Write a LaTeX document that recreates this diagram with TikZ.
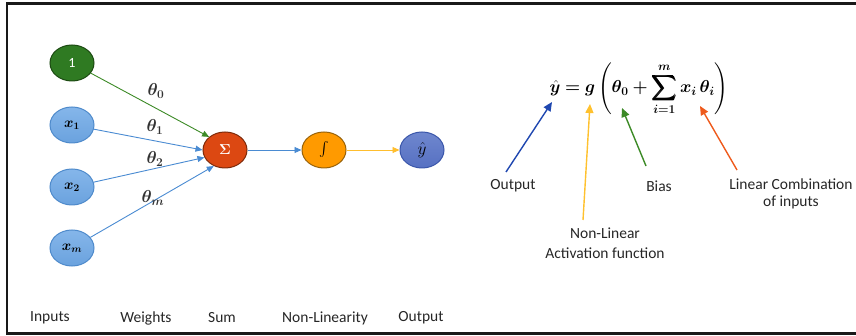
\documentclass[tikz,border=0pt]{standalone}
\usepackage{amsmath}
\usepackage{bm}
\usepackage{fontspec}
\setsansfont{Carlito}
\usetikzlibrary{arrows.meta,shapes.geometric}

\definecolor{nodeblue}{HTML}{6AA2DE}
\definecolor{nodebluetop}{HTML}{85B6EA}
\definecolor{nodeblueedge}{HTML}{4E8ACB}
\definecolor{biasgreen}{HTML}{2F7A22}
\definecolor{biasgreenedge}{HTML}{1C4A12}
\definecolor{sumred}{HTML}{DC4812}
\definecolor{sumrededge}{HTML}{7E2A0A}
\definecolor{actorange}{HTML}{FF9A00}
\definecolor{actorangeedge}{HTML}{98620A}
\definecolor{outblue}{HTML}{5670C2}
\definecolor{outbluetop}{HTML}{6F87CE}
\definecolor{outblueedge}{HTML}{3A56AA}
\definecolor{wireblue}{HTML}{4A8BD2}
\definecolor{wiregreen}{HTML}{3C8A26}
\definecolor{wireyellow}{HTML}{FFBE2E}
\definecolor{arrowblue}{HTML}{1F47B0}
\definecolor{arrowyellow}{HTML}{FFC12E}
\definecolor{arroworange}{HTML}{EE5A1C}

\tikzset{
  neuron/.style={ellipse, minimum width=44pt, minimum height=36pt, inner sep=0pt, line width=1pt,
    font=\fontsize{14}{16}\selectfont},
  innode/.style={neuron, draw=nodeblueedge, top color=nodebluetop, bottom color=nodeblue},
  tip/.style={-{Triangle[length=7pt,width=6pt]}},
  bigtip/.style={-{Triangle[length=9pt,width=8pt]}},
  wire/.style={tip, line width=0.9pt},
  pointer/.style={bigtip, line width=1.4pt},
  caption/.style={font=\sffamily\fontsize{15.5}{18}\selectfont, text=black!85, align=center},
  wlabel/.style={font=\fontsize{18}{20}\selectfont, text=black!80},
  formula/.style={font=\fontsize{17}{20}\selectfont, inner sep=0pt},
}

\begin{document}
\begin{tikzpicture}[x=1pt, y=-1pt]
  \useasboundingbox (0,0) rectangle (856,336);

  % open frame (no right edge)
  \draw[line width=2.4pt, black!90] (856,3.6) -- (7,3.6) -- (7,333.3) -- (856,333.3);

  % neuron nodes
  \node[neuron, draw=biasgreenedge, fill=biasgreen, text=white] (one) at (72,63)
    {\sffamily\fontsize{14}{16}\selectfont 1};
  \node[innode] (x1) at (72,125) {$\bm{x_1}$};
  \node[innode] (x2) at (72,187) {$\bm{x_2}$};
  \node[innode] (xm) at (72,248) {$\bm{x_m}$};
  \node[neuron, draw=sumrededge, fill=sumred, text=white] (sum) at (225,150)
    {$\bm{\Sigma}$};
  \node[neuron, draw=actorangeedge, fill=actorange, font=\fontsize{15}{17}\selectfont] (act) at (324,150)
    {$\int$};
  \node[neuron, draw=outblueedge, top color=outbluetop, bottom color=outblue, font=\fontsize{16}{18}\selectfont] (out) at (422,150)
    {$\hat{y}$};

  % weighted connections into the sum
  \draw[wire, wiregreen] (one) -- (sum.north west);
  \draw[wire, wireblue] (x1) -- (sum.west);
  \draw[wire, wireblue] (x2) -- (sum.200);
  \draw[wire, wireblue] (xm) -- (sum.235);
  \draw[wire, wireblue] (sum) -- (act);
  \draw[wire, wireyellow] (act) -- (out);

  % weight labels
  \node[wlabel] (t0) at (156,91) {$\bm{\theta_0}$};
  \node[wlabel] (t1) at (155,127) {$\bm{\theta_1}$};
  \node[wlabel] (t2) at (155,159) {$\bm{\theta_2}$};
  \node[wlabel] (tm) at (153,198) {$\bm{\theta_m}$};

  % stage captions
  \node[caption] (cin)  at (50,318)  {Inputs};
  \node[caption] (cw)   at (146,318) {Weights};
  \node[caption] (cs)   at (222,318) {Sum};
  \node[caption] (cnl)  at (325,318) {Non-Linearity};
  \node[caption] (cout) at (421,318) {Output};

  % perceptron formula
  \node[formula] (eqn) at (639,89)
    {$\displaystyle \bm{\hat{y}} \bm{=} \bm{g}\, \Biggl( \bm{\theta_0} \bm{+} \bm{\sum_{i=1}^{m}} \bm{x_i}\,\bm{\theta_i} \Biggr)$};

  % formula annotations
  \node[caption] (lout)  at (513,186) {Output};
  \node[caption] (lbias) at (659,186) {Bias};
  \node[caption, font=\sffamily\fontsize{15.5}{17.5}\selectfont] (llin) at (791,194)
    {Linear Combination\\of inputs};
  \node[caption, font=\sffamily\fontsize{15.5}{19.5}\selectfont] (lact) at (605,243)
    {Non-Linear\\Activation function};

  \coordinate (pout)  at (552,102);
  \coordinate (pact)  at (590,104);
  \coordinate (pbias) at (622,108);
  \coordinate (plin)  at (700,106);

  \coordinate (sout)  at (506,172);
  \coordinate (sact)  at (583,220);
  \coordinate (sbias) at (646,166);
  \coordinate (slin)  at (737,170);

  \draw[pointer, arrowblue]   (sout) -- (pout);
  \draw[pointer, arrowyellow] (sact) -- (pact);
  \draw[pointer, wiregreen]   (sbias) -- (pbias);
  \draw[pointer, arroworange] (slin) -- (plin);
\end{tikzpicture}
\end{document}
